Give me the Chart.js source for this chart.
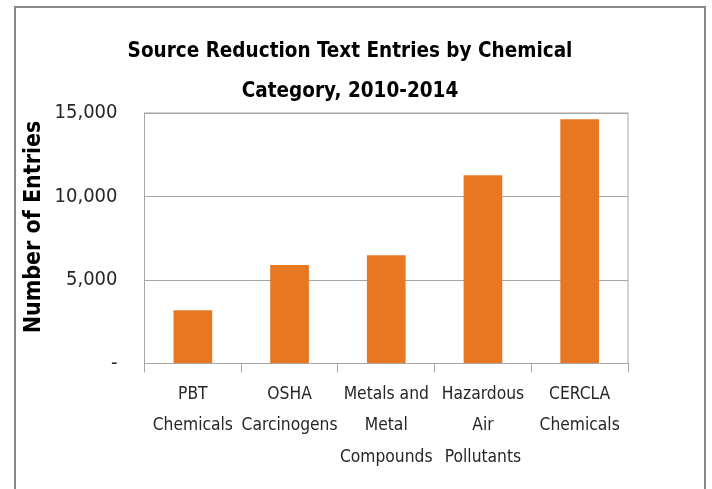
<!DOCTYPE html>
<html>
<head>
<meta charset="utf-8">
<script src="https://cdn.jsdelivr.net/npm/chart.js@4.4.1/dist/chart.umd.min.js"></script>
<style>
  html, body { margin: 0; padding: 0; background: #ffffff; }
  #wrap { position: relative; width: 712px; height: 489px; overflow: hidden; }
  #frame { position: absolute; left: 14px; top: 6px; width: 688px; height: 520px;
           border: 2px solid #888888; border-bottom: none; pointer-events: none; }
  canvas { position: absolute; left: 0; top: 0; }
</style>
</head>
<body>
<div id="wrap">
  <canvas id="c" width="712" height="489"></canvas>
  <div id="frame"></div>
</div>
<script>
const titleLines = ['Source Reduction Text Entries by Chemical', 'Category, 2010-2014'];
const yAxisTitle = 'Number of Entries';
const categories = [
  ['PBT', 'Chemicals'],
  ['OSHA', 'Carcinogens'],
  ['Metals and', 'Metal', 'Compounds'],
  ['Hazardous', 'Air', 'Pollutants'],
  ['CERCLA', 'Chemicals']
];
const entries = [3190, 5900, 6480, 11270, 14620];
const yTicks = [0, 5000, 10000, 15000];

const FONT = '"DejaVu Sans Condensed", "Liberation Sans", sans-serif';

const titlePlugin = {
  id: 'fixedTitles',
  afterDraw(chart) {
    const ctx = chart.ctx;
    ctx.save();
    ctx.fillStyle = '#000000';
    ctx.font = 'bold 20.5px ' + FONT;
    ctx.textAlign = 'center';
    ctx.textBaseline = 'alphabetic';
    ctx.fillText(titleLines[0], 350, 57);
    ctx.fillText(titleLines[1], 350, 97);
    ctx.translate(34.5, 227);
    ctx.rotate(-Math.PI / 2);
    ctx.font = 'bold 23px ' + FONT;
    ctx.textBaseline = 'middle';
    ctx.fillText(yAxisTitle, 0, 0);
    ctx.restore();
  }
};

const plotBorderPlugin = {
  id: 'plotBorder',
  afterDraw(chart) {
    const a = chart.chartArea;
    const ctx = chart.ctx;
    ctx.save();
    ctx.strokeStyle = '#a6a6a6';
    ctx.lineWidth = 1;
    ctx.strokeRect(a.left, a.top, a.right - a.left, a.bottom - a.top);
    ctx.restore();
  }
};

new Chart(document.getElementById('c'), {
  type: 'bar',
  data: {
    labels: categories,
    datasets: [{
      data: entries,
      backgroundColor: '#E87722',
      borderWidth: 0,
      barPercentage: 0.4,
      categoryPercentage: 1.0
    }]
  },
  options: {
    responsive: false,
    animation: false,
    devicePixelRatio: 1,
    layout: { padding: { left: 16, right: 84, top: 113, bottom: 0 } },
    plugins: {
      legend: { display: false },
      title: { display: false },
      tooltip: { enabled: false }
    },
    scales: {
      x: {
        grid: {
          display: true,
          offset: true,
          drawOnChartArea: false,
          drawTicks: true,
          tickLength: 9,
          color: '#a6a6a6'
        },
        border: { display: true, color: '#a6a6a6' },
        ticks: {
          color: '#262626',
          font: { family: FONT, size: 17.3, lineHeight: 1.82 },
          padding: 6,
          maxRotation: 0,
          autoSkip: false
        },
        afterFit(scale) { scale.height = 125.5; }
      },
      y: {
        min: 0,
        max: 15000,
        afterBuildTicks(scale) { scale.ticks = yTicks.map(v => ({ value: v })); },
        grid: { color: '#a6a6a6', drawTicks: false },
        border: { display: true, color: '#a6a6a6' },
        ticks: {
          color: '#262626',
          font: { family: FONT, size: 20 },
          padding: 27,
          callback: v => v === 0 ? '-' : v.toLocaleString('en-US')
        },
        title: { display: false },
        afterFit(scale) { scale.width = 128.5; }
      }
    }
  },
  plugins: [titlePlugin, plotBorderPlugin]
});
</script>
</body>
</html>
